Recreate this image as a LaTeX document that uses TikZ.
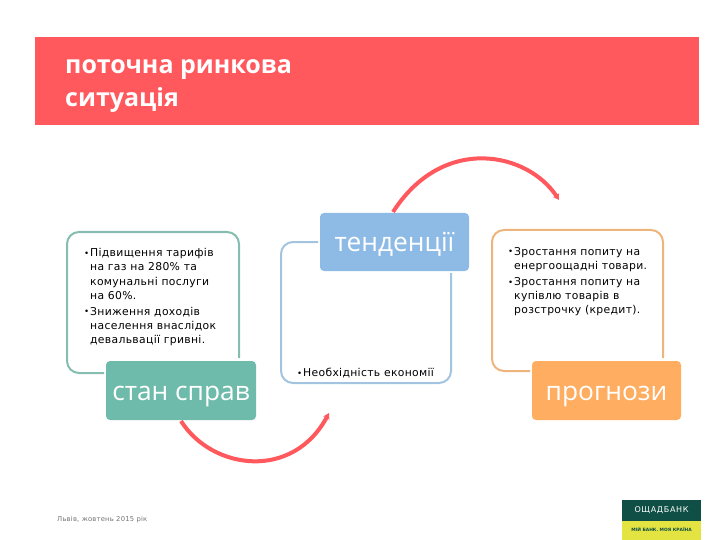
\documentclass[tikz,border=0pt]{standalone}
\usepackage{fontspec}
\setmainfont{DejaVu Sans}
\newfontfamily\bodyfont[LetterSpace=3]{DejaVu Sans}
\newfontfamily\headfont{Open Sans}
\newfontfamily\bankfont[LetterSpace=8]{DejaVu Sans}
\usepackage{xcolor}
\usetikzlibrary{calc,arrows.meta}
\definecolor{banner}{HTML}{FF585D}
\definecolor{sage}{HTML}{6FBBAB}
\definecolor{sky}{HTML}{8DBBE5}
\definecolor{peach}{HTML}{FFAD61}
\definecolor{sageline}{HTML}{86BDB1}
\definecolor{skyline}{HTML}{A3C4E0}
\definecolor{peachline}{HTML}{EDB47C}
\definecolor{bankdark}{HTML}{0F4F45}
\definecolor{bankyellow}{HTML}{E3E342}
\tikzset{
  frame/.style={line width=2pt, rounded corners=12pt},
  tab/.style={rounded corners=4pt, text=white, font=\headfont\fontsize{26.3}{28}\selectfont, align=center, inner sep=0pt, text height=19.5pt, text depth=0pt},
  body/.style={font=\bodyfont\fontsize{10.8}{14.3}\selectfont, text=black, anchor=north west, inner sep=0pt, align=left},
  turn/.style={draw=banner, line width=4pt, -{Stealth[length=6pt,width=7pt]}},
}
\newcommand{\bul}{\makebox[6pt][l]{\raisebox{0.3pt}{\scalebox{0.8}{•}}}}
\begin{document}
\begin{tikzpicture}[x=1pt,y=-1pt]
  \useasboundingbox (0,0) rectangle (720,540);
  % header
  \fill[banner] (35,37) rectangle (699,125);
  \node[font=\headfont\bfseries\fontsize{25}{33}\selectfont, text=white, anchor=north west, align=left, inner sep=0pt] (title) at (65,59.5) {поточна ринкова\\ситуація};
  % frames
  \draw[frame, sageline] (104,373) -- (67,373) -- (67,232) -- (239,232) -- (239,358);
  \draw[frame, skyline] (318,242) -- (281,242) -- (281,383) -- (451,383) -- (451,273);
  \draw[frame, peachline] (530,371) -- (492,371) -- (492,230) -- (663,230) -- (663,358);
  % arrows
  \coordinate (a1) at (393,212);
  \coordinate (a2) at (559,200);
  \coordinate (b1) at (181,421);
  \coordinate (b2) at (329,413);
  \draw[turn] (a1) .. controls (443,134) and (528,152) .. (a2);
  \draw[turn] (b1) .. controls (212,470) and (293,481) .. (b2);
  % tabs
  \node[tab, fill=sage, minimum width=150pt, minimum height=59pt] (stan) at (181,390.5) {стан справ};
  \node[tab, fill=sky, minimum width=149pt, minimum height=58pt] (tend) at (394.5,242) {тенденції};
  \node[tab, fill=peach, minimum width=149pt, minimum height=59pt] (prog) at (606.5,390.5) {прогнози};
  % texts
  \node[body] (txta) at (84,248) {\bul Підвищення тарифів\\\hspace*{6pt}на газ на 280\% та\\\hspace*{6pt}комунальні послуги\\\hspace*{6pt}на 60\%.\\[1.5pt]\bul Зниження доходів\\\hspace*{6pt}населення внаслідок\\\hspace*{6pt}девальвації гривні.};
  \node[body] (txtb) at (297,368) {\bul Необхідність економії};
  \node[body] (txtc) at (508,247) {\bul Зростання попиту на\\\hspace*{6pt}енергоощадні товари.\\[1.5pt]\bul Зростання попиту на\\\hspace*{6pt}купівлю товарів в\\\hspace*{6pt}розстрочку (кредит).};
  % footer
  \node[font=\bodyfont\fontsize{6.8}{8}\selectfont, text=black!55, anchor=west, inner sep=0pt] (foot) at (57,519.5) {Львів, жовтень 2015 рік};
  \fill[bankdark] (622,500) rectangle (701,521);
  \fill[bankyellow] (622,521) rectangle (701,540);
  \node[font=\bankfont\fontsize{8}{9}\selectfont, text=white, inner sep=0pt] (bank) at (661.5,510) {ОЩАДБАНК};
  \node[font=\bfseries\fontsize{4.4}{6}\selectfont, text=bankdark, inner sep=0pt] (motto) at (661.5,529.5) {МІЙ БАНК. МОЯ КРАЇНА};
\end{tikzpicture}
\end{document}
